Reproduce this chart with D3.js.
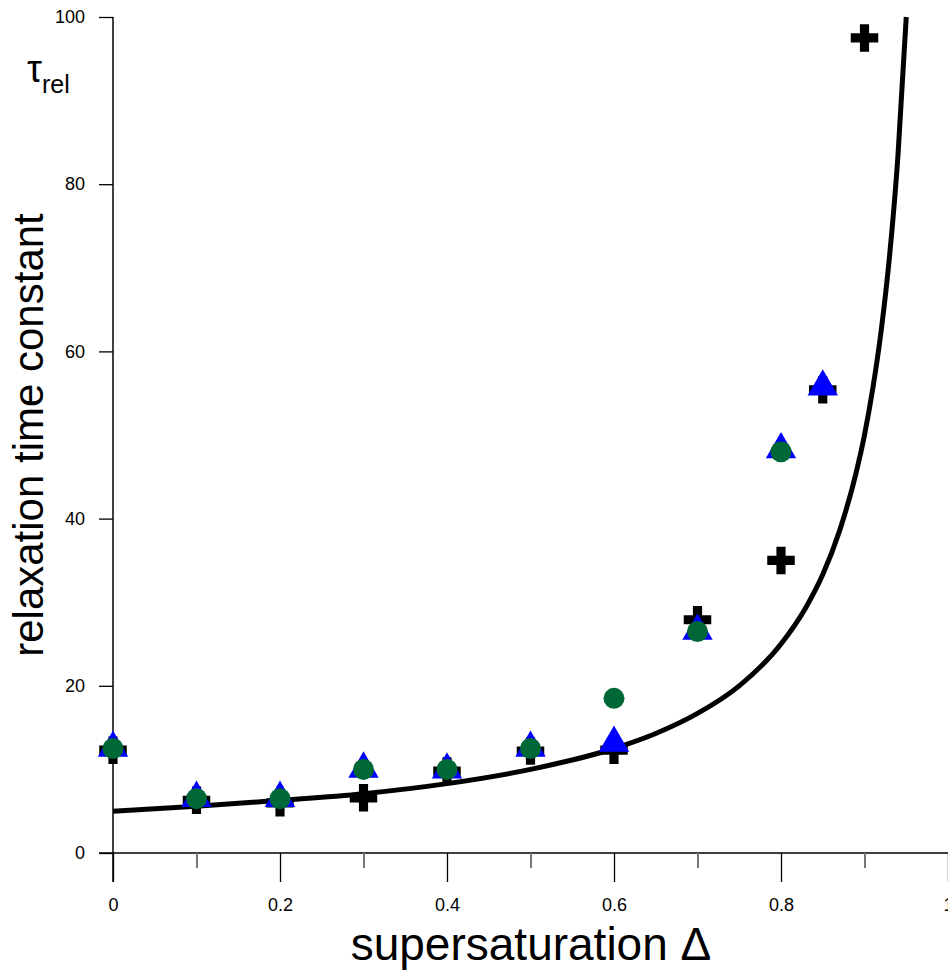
<!DOCTYPE html>
<html>
<head>
<meta charset="utf-8">
<script src="https://cdn.jsdelivr.net/npm/d3@7"></script>
<style>
  body { margin: 0; background: #fff; }
  svg { display: block; font-family: "Liberation Sans", Arial, sans-serif; }
</style>
</head>
<body>
<div id="chart"></div>
<script>
// values
const deltas = [0, 0.1, 0.2, 0.3, 0.4, 0.5, 0.6, 0.7, 0.8, 0.85, 0.9];
const crossVals = [12.3, 6.3, 6.0, 6.6, 9.8, 12.2, 12.3, 27.9, 35.0, 55.4, 97.5];
const triangleVals = [12.8, 6.8, 6.8, 10.3, 10.2, 12.8, 13.4, 26.8, 48.5, 56.0, null];
const circleVals = [12.5, 6.5, 6.5, 10.0, 10.0, 12.5, 18.5, 26.5, 48.0, null, null];

// fitted curve
const curveX = [0, 0.1, 0.2, 0.3, 0.4, 0.5, 0.6, 0.65, 0.7, 0.75, 0.8, 0.83, 0.85, 0.87, 0.89, 0.9, 0.91, 0.92, 0.93, 0.94, 0.95];
const curveY = [5, 5.6, 6.3, 7.1, 8.3, 10, 12.5, 14.3, 16.7, 20, 25, 29.4, 33.3, 38.5, 45.5, 50, 55.6, 62.5, 71.4, 83.3, 100];

const xTicks = [0, 0.1, 0.2, 0.3, 0.4, 0.5, 0.6, 0.7, 0.8, 0.9, 1];
const xTickLabels = ['0', '', '0.2', '', '0.4', '', '0.6', '', '0.8', '', '1'];
const yTicks = [0, 20, 40, 60, 80, 100];

const width = 948, height = 977;
const x = d3.scaleLinear().domain([0, 1]).range([113, 948]);
const y = d3.scaleLinear().domain([0, 100]).range([853, 17]);

const svg = d3.select('#chart').append('svg')
  .attr('width', width)
  .attr('height', height);

// y axis
const yAxis = svg.append('g')
  .attr('transform', `translate(${x(0)},0)`)
  .call(d3.axisLeft(y).tickValues(yTicks).tickSize(14).tickPadding(14).tickFormat(d3.format('d')));
yAxis.select('.domain').attr('stroke', '#000').attr('stroke-width', 1.5).attr('d', `M0,${y(100)}V${y(0) + 29}`);
yAxis.selectAll('.tick line').attr('stroke', '#000').attr('stroke-width', 1.3);
yAxis.selectAll('.tick text').attr('font-size', 18).attr('fill', '#000');

// x axis
const xAxis = svg.append('g')
  .attr('transform', `translate(0,${y(0)})`)
  .call(d3.axisBottom(x).tickValues(xTicks).tickSize(0).tickPadding(0).tickFormat((d, i) => xTickLabels[i]));
xAxis.select('.domain').attr('stroke', '#000').attr('stroke-width', 1.5).attr('d', `M${x(0) - 14},0H${width}`);
xAxis.selectAll('.tick line')
  .attr('y2', (d, i) => i % 2 === 0 ? 29 : 15)
  .attr('stroke', (d, i) => i % 2 === 0 ? '#000' : '#777')
  .attr('stroke-width', (d, i) => i % 2 === 0 ? 1.3 : 2);
xAxis.selectAll('.tick text').attr('y', 58).attr('dy', 0).attr('font-size', 18).attr('fill', '#000');

// fitted curve
const line = d3.line()
  .x((d, i) => x(d))
  .y((d, i) => y(curveY[i]))
  .curve(d3.curveMonotoneX);
svg.append('path')
  .attr('d', line(curveX))
  .attr('fill', 'none')
  .attr('stroke', '#000')
  .attr('stroke-width', 5);

// crosses
const cross = d3.symbol().type(d3.symbolCross).size(420);
svg.append('g').selectAll('path')
  .data(deltas.map((d, i) => [d, crossVals[i]]))
  .join('path')
  .attr('d', cross)
  .attr('transform', d => `translate(${x(d[0])},${y(d[1])})`)
  .attr('fill', '#000');

// triangles
const tri = d3.symbol().type(d3.symbolTriangle).size(400);
svg.append('g').selectAll('path')
  .data(deltas.map((d, i) => [d, triangleVals[i]]).filter(d => d[1] != null))
  .join('path')
  .attr('d', tri)
  .attr('transform', d => `translate(${x(d[0])},${y(d[1]) + 2})`)
  .attr('fill', '#0000ff');

// circles
svg.append('g').selectAll('circle')
  .data(deltas.map((d, i) => [d, circleVals[i]]).filter(d => d[1] != null))
  .join('circle')
  .attr('cx', d => x(d[0]))
  .attr('cy', d => y(d[1]))
  .attr('r', 10.5)
  .attr('fill', '#006837');

// axis titles
svg.append('text')
  .attr('transform', `translate(43,435) rotate(-90)`)
  .attr('text-anchor', 'middle')
  .attr('font-size', 42)
  .text('relaxation time constant');

svg.append('text')
  .attr('x', 531)
  .attr('y', 960)
  .attr('text-anchor', 'middle')
  .attr('font-size', 46)
  .text('supersaturation Δ');

const tau = svg.append('text')
  .attr('x', 27)
  .attr('y', 82)
  .attr('font-size', 38);
tau.append('tspan').text('τ');
tau.append('tspan').attr('font-size', 25).attr('dy', 11).text('rel');
</script>
</body>
</html>
